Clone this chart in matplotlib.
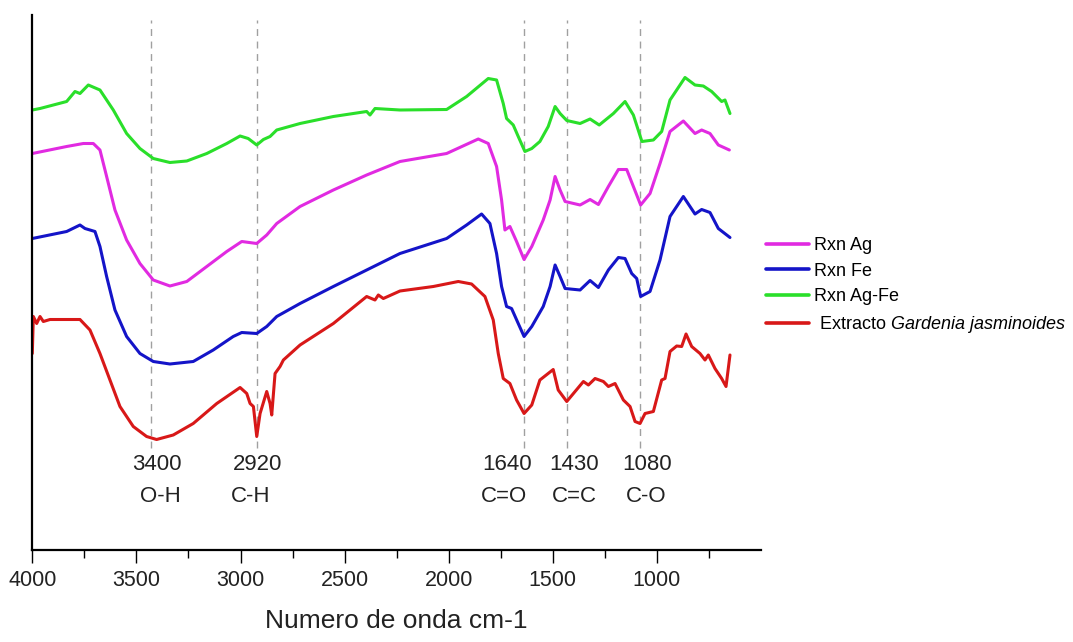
import matplotlib
matplotlib.use("Agg")
import matplotlib.pyplot as plt
import numpy as np

plt.rcParams['font.family'] = ['Liberation Sans', 'DejaVu Sans']
plt.rcParams['mathtext.fontset'] = 'custom'
plt.rcParams['mathtext.it'] = 'Liberation Sans:italic'
plt.rcParams['mathtext.rm'] = 'Liberation Sans'

# ---- data (wavenumber cm-1, transmittance a.u. with vertical offsets) ----
ag_fe_wn = [4000, 3963, 3835, 3795, 3771, 3731, 3675, 3611, 3547, 3483, 3419, 3339, 3258, 3162,
            3066, 3002, 2963, 2922, 2890, 2858, 2826, 2714, 2554, 2394, 2378, 2354, 2234, 2010,
            1914, 1810, 1770, 1738, 1722, 1690, 1666, 1634, 1601, 1562, 1522, 1489, 1465, 1433,
            1369, 1321, 1277, 1209, 1153, 1113, 1072, 1017, 977, 937, 865, 817, 777, 737, 689,
            673, 649]
ag_fe_t = [88.0, 88.3, 89.7, 91.7, 91.3, 93.0, 92.0, 88.0, 83.3, 80.3, 78.3, 77.5, 77.8, 79.3,
           81.3, 82.8, 82.3, 81.0, 82.1, 82.7, 84.0, 85.3, 86.7, 87.7, 87.0, 88.3, 88.0, 88.1,
           90.7, 94.3, 94.0, 89.3, 86.3, 85.0, 82.7, 79.7, 80.3, 81.7, 84.7, 88.7, 87.3, 85.9,
           85.3, 86.2, 85.0, 87.3, 89.7, 87.0, 81.7, 82.0, 83.7, 90.0, 94.5, 93.0, 92.8, 91.7,
           89.7, 90.0, 87.3]

ag_wn = [4000, 3835, 3755, 3707, 3675, 3643, 3603, 3547, 3483, 3419, 3339, 3258, 3162, 3066,
         2994, 2922, 2874, 2826, 2714, 2554, 2394, 2234, 2010, 1858, 1810, 1770, 1746, 1730,
         1706, 1674, 1638, 1601, 1546, 1513, 1489, 1465, 1441, 1369, 1321, 1281, 1233, 1185,
         1145, 1113, 1078, 1033, 985, 937, 873, 817, 785, 745, 705, 652]
ag_t = [79.3, 80.7, 81.3, 81.3, 80.0, 74.7, 68.0, 62.0, 57.3, 54.0, 52.8, 53.7, 56.7, 59.7,
        61.7, 61.3, 63.0, 65.3, 68.7, 72.0, 75.0, 77.7, 79.3, 82.2, 81.3, 76.7, 70.0, 64.0,
        64.7, 61.7, 58.1, 60.7, 66.0, 70.0, 74.7, 72.0, 69.7, 69.0, 70.1, 69.1, 72.7, 76.1,
        76.1, 72.7, 69.0, 71.3, 77.3, 83.7, 85.8, 83.3, 84.0, 83.3, 81.0, 80.0]

fe_wn = [4000, 3835, 3771, 3747, 3699, 3675, 3643, 3603, 3547, 3483, 3419, 3339, 3227, 3131,
         3035, 2994, 2922, 2874, 2826, 2714, 2554, 2394, 2234, 2010, 1914, 1842, 1802, 1770,
         1746, 1722, 1698, 1666, 1638, 1601, 1546, 1513, 1489, 1465, 1441, 1369, 1321, 1281,
         1233, 1185, 1153, 1121, 1097, 1078, 1033, 985, 937, 873, 817, 785, 745, 705, 649]
fe_t = [62.3, 63.7, 65.0, 64.3, 63.7, 60.7, 54.7, 48.0, 42.7, 39.3, 37.7, 37.2, 37.7, 40.0,
        42.7, 43.5, 43.3, 44.7, 46.7, 49.3, 52.7, 56.0, 59.3, 62.3, 65.0, 67.2, 65.3, 59.3,
        52.7, 48.7, 48.3, 45.3, 42.7, 44.7, 48.7, 52.7, 57.0, 54.7, 52.3, 52.0, 53.9, 52.5,
        56.0, 58.5, 58.3, 55.3, 54.3, 50.7, 51.7, 58.0, 66.7, 70.7, 67.2, 68.1, 67.5, 64.3, 62.5]

ext_wn = [4000, 3995, 3979, 3963, 3947, 3915, 3771, 3723, 3675, 3627, 3579, 3515, 3451, 3403,
          3323, 3227, 3114, 3002, 2970, 2954, 2938, 2922, 2906, 2874, 2858, 2850, 2834, 2810,
          2794, 2714, 2554, 2394, 2354, 2338, 2314, 2234, 2074, 1954, 1890, 1826, 1786, 1762,
          1738, 1706, 1674, 1638, 1601, 1562, 1498, 1474, 1433, 1353, 1329, 1297, 1257, 1233,
          1201, 1161, 1129, 1105, 1081, 1057, 1017, 977, 961, 937, 905, 881, 860, 833, 793,
          769, 753, 721, 689, 668, 649]
ext_t = [39.3, 46.7, 45.3, 46.7, 45.7, 46.1, 46.1, 44.0, 39.3, 34.0, 28.7, 24.7, 22.7, 22.1,
         23.0, 25.3, 29.3, 32.5, 31.3, 29.3, 28.7, 22.7, 27.3, 31.7, 29.3, 27.0, 35.3, 36.7,
         38.0, 41.0, 45.3, 50.7, 50.0, 51.0, 50.3, 51.8, 52.7, 53.7, 53.2, 50.7, 46.0, 39.3,
         34.3, 33.3, 30.0, 27.3, 29.0, 34.0, 36.1, 32.0, 29.7, 33.7, 33.0, 34.3, 33.7, 32.7,
         33.3, 30.0, 28.7, 25.7, 25.3, 27.3, 27.7, 34.0, 34.3, 39.7, 40.8, 40.7, 43.2, 40.7,
         39.3, 38.0, 39.0, 36.3, 34.3, 32.7, 39.0]

series_labels = ['Rxn Ag', 'Rxn Fe', 'Rxn Ag-Fe', r' Extracto $\it{Gardenia\ jasminoides}$']
series_colors = ['#E12AE1', '#1414C8', '#2ADF2A', '#D81818']

band_lines = [3430, 2920, 1640, 1430, 1080]
band_label_x = [3400, 2920, 1640, 1430, 1080]
band_numbers = ['3400', '2920', '1640', '1430', '1080']
band_groups = ['O-H', 'C-H', 'C=O', 'C=C', 'C-O']

x_major = [4000, 3500, 3000, 2500, 2000, 1500, 1000]
x_minor = [3750, 3250, 2750, 2250, 1750, 1250, 750]

# ---- figure ----
fig = plt.figure(figsize=(10.73, 6.42), dpi=100)
ax = fig.add_axes([32.3 / 1073, 1 - 550 / 642, (761 - 32.3) / 1073, (550 - 15) / 642])

series = [(ag_wn, ag_t), (fe_wn, fe_t), (ag_fe_wn, ag_fe_t), (ext_wn, ext_t)]
for (wn, t), lab, col in zip(series, series_labels, series_colors):
    ax.plot(wn, t, color=col, lw=2.2, label=lab, solid_capstyle='round', solid_joinstyle='round')

# dashed band markers
for xv in band_lines:
    ax.axvline(xv, ymin=0.19, ymax=0.99, color='#A0A0A0', lw=1.0, dashes=(5, 4), zorder=0)

num_off = [0, 0, -12, 5, 5]
grp_off = [2, -5, -14, 5, 4]
for xt, num, grp, o1, o2 in zip(band_label_x, band_numbers, band_groups, num_off, grp_off):
    ax.annotate(num, xy=(xt, 17.2), xytext=(o1, 0), textcoords='offset points',
                ha='center', va='center', fontsize=16, color='#222222')
    ax.annotate(grp, xy=(xt, 10.6), xytext=(o2, 0), textcoords='offset points',
                ha='center', va='center', fontsize=16, color='#222222')

ax.set_xlim(4000, 500)
ax.set_ylim(0, 107)
ax.set_xticks(x_major)
ax.set_xticks(x_minor, minor=True)
ax.set_xticklabels([str(v) for v in x_major])
ax.set_yticks([])
for s in ['top', 'right']:
    ax.spines[s].set_visible(False)
ax.spines['left'].set_linewidth(1.6)
ax.spines['bottom'].set_linewidth(1.6)
ax.tick_params(axis='x', which='major', direction='out', length=9.1, width=1.0, pad=5,
               labelsize=15.5, labelcolor='#222222')
ax.tick_params(axis='x', which='minor', direction='out', length=5.5, width=1.0)
ax.set_xlabel('Numero de onda cm-1', fontsize=19, color='#222222')
ax.xaxis.set_label_coords(0.5, (550 - 621) / 535)
ax.xaxis.label.set_va('center')

leg = ax.legend(loc='center left', bbox_to_anchor=(766 / 1073, 1 - 286 / 642),
                bbox_transform=fig.transFigure, frameon=False, fontsize=13,
                handlelength=2.4, handletextpad=0.25, labelspacing=0.48,
                borderpad=0, borderaxespad=0)
for line in leg.get_lines():
    line.set_linewidth(2.6)

fig.savefig('out.png', dpi=100)
